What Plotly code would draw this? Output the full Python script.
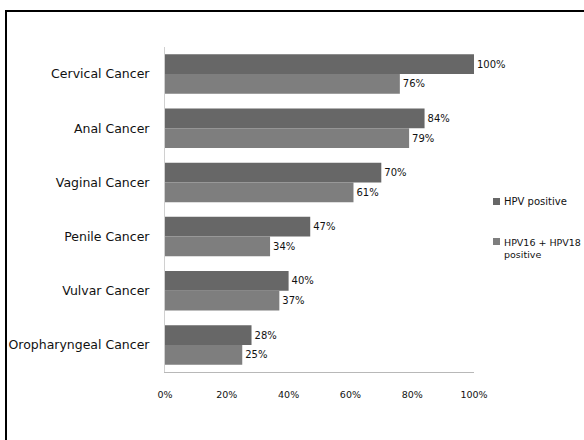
import plotly.graph_objects as go

categories = ["Cervical Cancer", "Anal Cancer", "Vaginal Cancer", "Penile Cancer",
              "Vulvar Cancer", "Oropharyngeal Cancer"]
hpv_positive = [100, 84, 70, 47, 40, 28]
hpv16_18_positive = [76, 79, 61, 34, 37, 25]
series_names = ["HPV positive", "HPV16 + HPV18<br>positive"]
tick_values = [0, 20, 40, 60, 80, 100]
tick_labels = ["0%", "20%", "40%", "60%", "80%", "100%"]

dark = "#676767"
light = "#7e7e7e"
label_font = dict(family="DejaVu Sans", size=10, color="#111111")

fig = go.Figure()
fig.add_trace(go.Bar(
    y=categories, x=hpv_positive, orientation="h", name=series_names[0],
    marker=dict(color=dark, line=dict(width=0)),
    text=[f"{v}%" for v in hpv_positive], textposition="outside",
    textfont=label_font, cliponaxis=False, showlegend=False))
fig.add_trace(go.Bar(
    y=categories, x=hpv16_18_positive, orientation="h", name=series_names[1],
    marker=dict(color=light, line=dict(width=0)),
    text=[f"{v}%" for v in hpv16_18_positive], textposition="outside",
    textfont=label_font, cliponaxis=False, showlegend=False))

L, R, T, B = 165, 474, 47, 372
W, H = 584, 440
pw, ph = R - L, B - T

def px_x(x):
    return (x - L) / pw

def px_y(y):
    return (B - y) / ph

fig.update_layout(
    width=W, height=H,
    margin=dict(l=L, r=W - R, t=T, b=H - B, pad=0, autoexpand=False),
    paper_bgcolor="white", plot_bgcolor="white",
    barmode="group", bargap=0.27, bargroupgap=0,
    xaxis=dict(range=[0, 100], tickvals=tick_values, ticktext=tick_labels,
               showgrid=False, zeroline=False, showline=True, linecolor="#b8b8b8",
               linewidth=1, ticks="", ticklabelstandoff=14, automargin=False,
               tickfont=dict(family="DejaVu Sans", size=9.5, color="#111111")),
    yaxis=dict(autorange="reversed", showgrid=False, zeroline=False, showline=True,
               linecolor="#d0d0d0", linewidth=1, ticks="", ticklabelstandoff=12,
               automargin=False,
               tickfont=dict(family="DejaVu Sans", size=12.5, color="#111111")),
    shapes=[
        dict(type="rect", xref="paper", yref="paper",
             x0=px_x(6), x1=px_x(600), y0=px_y(460), y1=px_y(11),
             line=dict(color="black", width=2), fillcolor="rgba(0,0,0,0)", layer="above"),
        dict(type="rect", xref="paper", yref="paper",
             x0=px_x(493), x1=px_x(500), y0=px_y(205), y1=px_y(198),
             line=dict(width=0), fillcolor=dark),
        dict(type="rect", xref="paper", yref="paper",
             x0=px_x(493), x1=px_x(500), y0=px_y(245), y1=px_y(238),
             line=dict(width=0), fillcolor=light),
    ],
    annotations=[
        dict(xref="paper", yref="paper", x=px_x(502), y=px_y(201), text=series_names[0],
             showarrow=False, xanchor="left", yanchor="middle", align="left",
             font=dict(family="DejaVu Sans", size=10, color="#111111")),
        dict(xref="paper", yref="paper", x=px_x(502), y=px_y(235), text=series_names[1],
             showarrow=False, xanchor="left", yanchor="top", align="left",
             font=dict(family="DejaVu Sans", size=9.5, color="#111111")),
    ],
)

fig.write_html("out.html")
